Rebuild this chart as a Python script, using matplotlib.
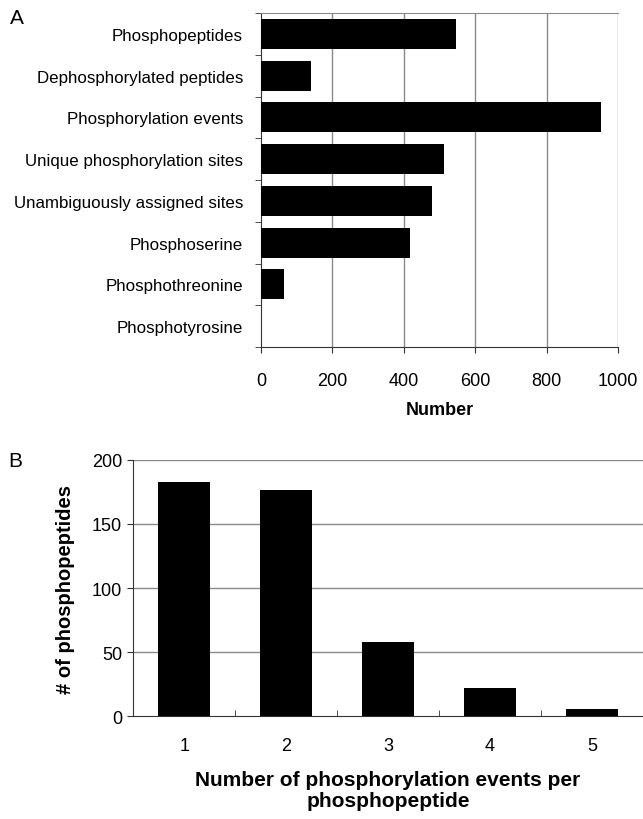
import matplotlib
matplotlib.use("Agg")
import matplotlib.pyplot as plt
from matplotlib.ticker import FixedLocator
import numpy as np

plt.rcParams['font.family'] = ['Liberation Sans', 'DejaVu Sans']

# Panel A data
cat_a = ["Phosphopeptides", "Dephosphorylated peptides", "Phosphorylation events",
         "Unique phosphorylation sites", "Unambiguously assigned sites",
         "Phosphoserine", "Phosphothreonine", "Phosphotyrosine"]
val_a = [545, 140, 952, 513, 478, 416, 63, 0]
xticks_a = [0, 200, 400, 600, 800, 1000]

# Panel B data
cat_b = ["1", "2", "3", "4", "5"]
val_b = [183, 176, 58, 22, 6]
yticks_b = [0, 50, 100, 150, 200]

W, H = 643, 820
fig = plt.figure(figsize=(W/100, H/100), dpi=100)

def rect(l, t, r, b):
    return [l/W, 1 - b/H, (r-l)/W, (b-t)/H]

grid_c = "#8a8a8a"
spine_c = "#333333"

# ---------- Panel A ----------
axA = fig.add_axes(rect(261, 14, 618.3, 348))
ya = np.arange(len(cat_a))
axA.barh(ya, val_a, height=0.72, color="black", zorder=3)
axA.set_ylim(len(cat_a) - 0.5, -0.5)
axA.set_xlim(0, 1000)
axA.set_xticks(xticks_a)
axA.set_xticklabels([str(v) for v in xticks_a], fontsize=13)
axA.set_yticks(ya)
axA.set_yticklabels(cat_a, fontsize=12.2)
axA.yaxis.set_minor_locator(FixedLocator(np.arange(-0.5, len(cat_a), 1.0)))
axA.tick_params(axis='y', which='major', length=0, pad=13)
axA.tick_params(axis='y', which='minor', length=4, direction='out', color=spine_c)
axA.tick_params(axis='x', which='major', length=4, direction='out', color=spine_c, pad=14)
for x in xticks_a[1:]:
    axA.axvline(x, color=grid_c, lw=1, zorder=1)
axA.spines['top'].set_color(grid_c)
axA.spines['right'].set_visible(False)
axA.spines['left'].set_color(spine_c)
axA.spines['bottom'].set_color(spine_c)
axA.set_xlabel("Number", fontsize=13, fontweight='bold', labelpad=9)
fig.text(10/W, 1 - 18/H, "A", fontsize=15, va='center', ha='left')

# ---------- Panel B ----------
axB = fig.add_axes(rect(133.3, 460.7, 643, 717.3))
xb = np.arange(1, len(cat_b) + 1)
axB.bar(xb, val_b, width=0.51, color="black", zorder=3)
axB.set_xlim(0.5, 5.5)
axB.set_ylim(0, 200)
axB.set_xticks(xb)
axB.set_xticklabels(cat_b, fontsize=13)
axB.xaxis.set_minor_locator(FixedLocator(np.arange(1.5, 5.0, 1.0)))
axB.tick_params(axis='x', which='major', length=0, pad=15)
axB.tick_params(axis='x', which='minor', length=4, direction='in', color=spine_c)
axB.set_yticks(yticks_b)
axB.set_yticklabels([str(v) for v in yticks_b], fontsize=13)
axB.tick_params(axis='y', which='major', length=4, direction='out', color=spine_c, pad=4)
for y in yticks_b[1:]:
    axB.axhline(y, color=grid_c, lw=1, zorder=1)
axB.spines['top'].set_visible(False)
axB.spines['right'].set_visible(False)
axB.spines['left'].set_color(spine_c)
axB.spines['bottom'].set_color(spine_c)
axB.set_ylabel("# of phosphopeptides", fontsize=14.5, fontweight='bold', labelpad=12)
fig.text(388/W, 1 - 791/H, "Number of phosphorylation events per\nphosphopeptide",
         fontsize=15, fontweight='bold', ha='center', va='center', linespacing=1.15)
fig.text(8/W, 1 - 462/H, "B", fontsize=15, va='center', ha='left')

fig.savefig("out.png", dpi=100)
